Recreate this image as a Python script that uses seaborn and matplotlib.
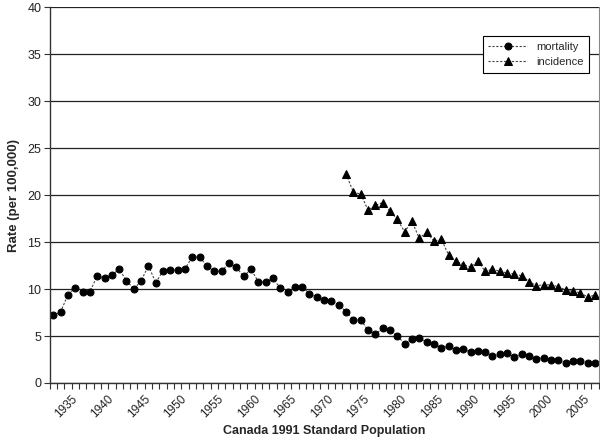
import numpy as np
import matplotlib
matplotlib.use("Agg")
import matplotlib.pyplot as plt
import seaborn as sns

# years shown on the category axis
years = np.arange(1932, 2007)
inc_years = np.arange(1972, 2007)

# rate per 100,000, Canada 1991 standard population
mortality = [7.2, 7.55, 9.4, 10.15, 9.7, 9.7, 11.4, 11.15, 11.5, 12.1,
             10.9, 10.0, 10.85, 12.5, 10.65, 11.95, 12.0, 12.05, 12.15, 13.45,
             13.45, 12.4, 11.9, 11.9, 12.75, 12.3, 11.35, 12.1, 10.8, 10.7,
             11.15, 10.1, 9.7, 10.25, 10.25, 9.5, 9.1, 8.8, 8.75, 8.3,
             7.6, 6.75, 6.75, 5.6, 5.2, 5.8, 5.6, 5.05, 4.15, 4.65,
             4.75, 4.4, 4.15, 3.75, 3.9, 3.5, 3.6, 3.3, 3.4, 3.3,
             2.9, 3.05, 3.2, 2.75, 3.1, 2.9, 2.55, 2.7, 2.5, 2.5,
             2.15, 2.3, 2.3, 2.1, 2.1]
incidence = [22.25, 20.3, 20.1, 18.4, 18.9, 19.2, 18.3, 17.4, 16.1, 17.2,
             15.4, 16.05, 15.1, 15.3, 13.65, 12.95, 12.6, 12.35, 12.95, 11.9,
             12.1, 11.9, 11.7, 11.6, 11.4, 10.8, 10.35, 10.45, 10.45, 10.25,
             9.9, 9.75, 9.6, 9.15, 9.35]
label_years = np.arange(1935, 2006, 5)

sns.set_style("white")
plt.rcParams['font.family'] = ['Liberation Sans', 'DejaVu Sans']

fig = plt.figure(figsize=(6, 4.44), dpi=100)
ax = fig.add_axes([0.0827, 0.1374, 0.915, 0.8466])

line_kw = dict(color='#444444', linewidth=0.8, linestyle=(0, (2, 1.5)),
               markerfacecolor='black', markeredgecolor='black')
sns.lineplot(x=years, y=mortality, ax=ax, marker='o', markersize=5,
             label='mortality', **line_kw)
sns.lineplot(x=inc_years, y=incidence, ax=ax, marker='^', markersize=6,
             label='incidence', **line_kw)

ax.set_xlim(1931.5, 2006.5)
ax.set_ylim(0, 40)
ax.set_yticks(np.arange(0, 41, 5))
ax.yaxis.grid(True, color='#222222', linewidth=0.9)
ax.xaxis.grid(False)

ax.set_xticks(label_years)
ax.set_xticklabels([str(y) for y in label_years], rotation=45, ha='right',
                   va='center', rotation_mode='anchor', fontsize=8.5,
                   color='#222222')
ax.set_xticks(np.arange(1931.5, 2007, 1), minor=True)
ax.tick_params(axis='x', which='major', length=0, pad=10)
ax.tick_params(axis='x', which='minor', length=4, width=0.8, color='#333333',
               direction='out', bottom=True)
ax.tick_params(axis='y', length=4, width=0.8, color='#333333', direction='out',
               left=True, labelsize=9, labelcolor='#222222', pad=2)

for s in ['left', 'bottom']:
    ax.spines[s].set_color('#333333')
    ax.spines[s].set_linewidth(1.0)
ax.spines['top'].set_visible(False)
ax.spines['right'].set_color('#888888')
ax.spines['right'].set_linewidth(0.8)

ax.set_ylabel('Rate (per 100,000)', fontsize=9.5, fontweight='bold', labelpad=5)
ax.set_xlabel('Canada 1991 Standard Population', fontsize=9, fontweight='bold',
              labelpad=4)

leg = ax.legend(loc='upper right', bbox_to_anchor=(0.983, 0.923),
                borderaxespad=0, fontsize=8, handlelength=3.5,
                fancybox=False, framealpha=1, edgecolor='black',
                borderpad=0.5, labelspacing=0.5)
leg.get_frame().set_linewidth(0.8)

fig.savefig('out.png', dpi=100)
